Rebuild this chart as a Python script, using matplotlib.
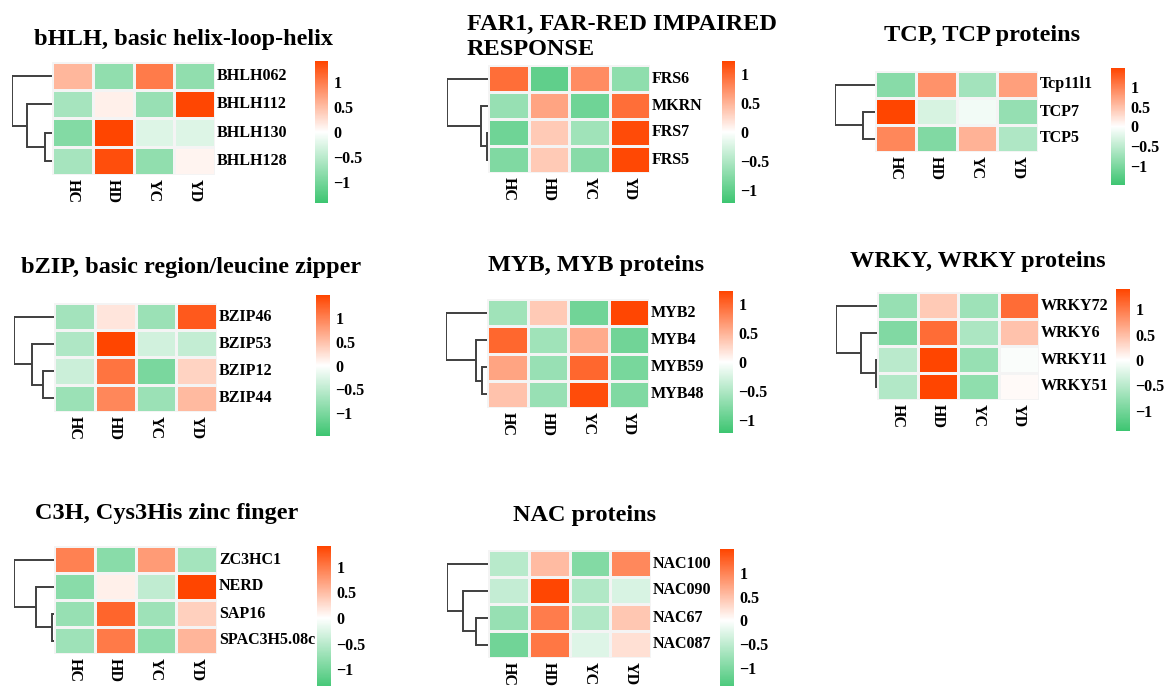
import numpy as np
import matplotlib
matplotlib.use("Agg")
import matplotlib.pyplot as plt
from matplotlib.colors import LinearSegmentedColormap, Normalize

# ── Data: row-scaled expression (z-scores) ───────────────────────────────────
samples = ["HC", "HD", "YC", "YD"]

bhlh_title = "bHLH, basic helix-loop-helix"
bhlh_genes = ["BHLH062", "BHLH112", "BHLH130", "BHLH128"]
bhlh_values = [[0.55, -0.8, 1.0, -0.8],
               [-0.65, 0.12, -0.75, 1.4],
               [-0.9, 1.42, -0.25, -0.25],
               [-0.65, 1.35, -0.8, 0.08]]
bhlh_tree = [(2, 3, 0.18), (1, 4, 0.62), (0, 5, 1.0)]
bhlh_range = 1.42

far1_title = "FAR1, FAR-RED IMPAIRED\nRESPONSE"
far1_genes = ["FRS6", "MKRN", "FRS7", "FRS5"]
far1_values = [[0.95, -1.0, 0.75, -0.7],
               [-0.65, 0.6, -0.9, 0.95],
               [-0.9, 0.35, -0.6, 1.18],
               [-0.8, 0.35, -0.75, 1.2]]
far1_tree = [(2, 3, 0.03), (1, 4, 0.18), (0, 5, 1.0)]
far1_range = 1.22

tcp_title = "TCP, TCP proteins"
tcp_genes = ["Tcp11l1", "TCP7", "TCP5"]
tcp_values = [[-0.9, 0.85, -0.7, 0.75],
              [1.47, -0.3, -0.1, -0.8],
              [0.95, -0.95, 0.6, -0.6]]
tcp_tree = [(1, 2, 0.31), (0, 3, 1.0)]
tcp_range = 1.47

bzip_title = "bZIP, basic region/leucine zipper"
bzip_genes = ["BZIP46", "BZIP53", "BZIP12", "BZIP44"]
bzip_values = [[-0.7, 0.2, -0.75, 1.3],
               [-0.6, 1.47, -0.35, -0.45],
               [-0.4, 1.1, -1.0, 0.35],
               [-0.75, 0.95, -0.75, 0.55]]
bzip_tree = [(2, 3, 0.28), (1, 4, 0.56), (0, 5, 1.0)]
bzip_range = 1.47

myb_title = "MYB, MYB proteins"
myb_genes = ["MYB2", "MYB4", "MYB59", "MYB48"]
myb_values = [[-0.6, 0.35, -0.9, 1.22],
              [1.0, -0.6, 0.55, -0.9],
              [0.6, -0.65, 1.0, -0.85],
              [0.4, -0.65, 1.18, -0.8]]
myb_tree = [(2, 3, 0.13), (1, 4, 0.28), (0, 5, 1.0)]
myb_range = 1.23

wrky_title = "WRKY, WRKY proteins"
wrky_genes = ["WRKY72", "WRKY6", "WRKY11", "WRKY51"]
wrky_values = [[-0.75, 0.4, -0.7, 1.1],
               [-0.9, 1.1, -0.6, 0.45],
               [-0.5, 1.4, -0.75, -0.04],
               [-0.55, 1.4, -0.8, 0.04]]
wrky_tree = [(2, 3, 0.03), (1, 4, 0.40), (0, 5, 1.0)]
wrky_range = 1.4

c3h_title = "C3H, Cys3His zinc finger"
c3h_genes = ["ZC3HC1", "NERD", "SAP16", "SPAC3H5.08c"]
c3h_values = [[0.95, -0.85, 0.75, -0.65],
              [-0.85, 0.12, -0.45, 1.4],
              [-0.75, 1.15, -0.7, 0.35],
              [-0.7, 1.0, -0.8, 0.55]]
c3h_tree = [(2, 3, 0.05), (1, 4, 0.44), (0, 5, 1.0)]
c3h_range = 1.4

nac_title = "NAC proteins"
nac_genes = ["NAC100", "NAC090", "NAC67", "NAC087"]
nac_values = [[-0.55, 0.55, -0.95, 0.95],
              [-0.45, 1.48, -0.6, -0.3],
              [-0.8, 1.05, -0.6, 0.45],
              [-1.1, 1.1, -0.25, 0.25]]
nac_tree = [(2, 3, 0.30), (1, 4, 0.62), (0, 5, 1.0)]
nac_range = 1.5

# ── Layout (pixels): heatmap box, dendrogram left edge, colorbar box, title ───
W, H = 1166, 686
panels = [
    dict(title=bhlh_title, genes=bhlh_genes, values=bhlh_values, tree=bhlh_tree, vr=bhlh_range,
         hm=(52, 62, 215, 175), dl=13, cb=(315, 61, 328, 203), tpos=(184, 39), tha="center"),
    dict(title=far1_title, genes=far1_genes, values=far1_values, tree=far1_tree, vr=far1_range,
         hm=(488, 65, 650, 173), dl=448, cb=(722, 61, 735, 203), tpos=(467, 37), tha="left"),
    dict(title=tcp_title, genes=tcp_genes, values=tcp_values, tree=tcp_tree, vr=tcp_range,
         hm=(875, 71, 1038, 152), dl=836, cb=(1111, 68, 1125, 185), tpos=(982, 35), tha="center"),
    dict(title=bzip_title, genes=bzip_genes, values=bzip_values, tree=bzip_tree, vr=bzip_range,
         hm=(54, 303, 217, 412), dl=15, cb=(316, 295, 330, 436), tpos=(191, 267), tha="center"),
    dict(title=myb_title, genes=myb_genes, values=myb_values, tree=myb_tree, vr=myb_range,
         hm=(487, 299, 649, 408), dl=447, cb=(719, 291, 733, 433), tpos=(596, 266), tha="center"),
    dict(title=wrky_title, genes=wrky_genes, values=wrky_values, tree=wrky_tree, vr=wrky_range,
         hm=(877, 292, 1039, 400), dl=837, cb=(1116, 289, 1130, 431), tpos=(978, 261), tha="center"),
    dict(title=c3h_title, genes=c3h_genes, values=c3h_values, tree=c3h_tree, vr=c3h_range,
         hm=(54, 546, 217, 654), dl=15, cb=(317, 546, 331, 690), tpos=(167, 513), tha="center"),
    dict(title=nac_title, genes=nac_genes, values=nac_values, tree=nac_tree, vr=nac_range,
         hm=(488, 550, 651, 658), dl=448, cb=(720, 549, 734, 692), tpos=(585, 515), tha="center"),
]

cmap = LinearSegmentedColormap.from_list("gwr", ["#3DC571", "#FFFFFF", "#FF4500"])
SERIF = "Liberation Serif"
LABEL_FS = 11.5
TITLE_FS = 17.5


def px_axes(fig, x0, y0, x1, y1):
    return fig.add_axes([x0 / W, 1 - y1 / H, (x1 - x0) / W, (y1 - y0) / H])


def draw_dendrogram(ax, tree, n):
    # leaves sit at row centres, height 0; merges are (a, b, height)
    ypos = {i: i + 0.5 for i in range(n)}
    hgt = {i: 0.0 for i in range(n)}
    for k, (a, b, h) in enumerate(tree):
        node = n + k
        for c in (a, b):
            ax.plot([hgt[c], h], [ypos[c], ypos[c]], color="#3f3f3f", lw=1.4,
                    solid_capstyle="butt")
        ax.plot([h, h], [ypos[a], ypos[b]], color="#3f3f3f", lw=1.4,
                solid_capstyle="projecting")
        ypos[node] = (ypos[a] + ypos[b]) / 2
        hgt[node] = h
    ax.set_xlim(1.0, 0.0)
    ax.set_ylim(n, 0)
    ax.axis("off")


fig = plt.figure(figsize=(W / 100, H / 100), dpi=100)
fig.patch.set_facecolor("white")

for p in panels:
    vals = np.array(p["values"])
    n = vals.shape[0]
    norm = Normalize(vmin=-p["vr"], vmax=p["vr"])
    x0, y0, x1, y1 = p["hm"]

    # heatmap
    ax = px_axes(fig, x0, y0, x1, y1)
    ax.pcolormesh(vals, cmap=cmap, norm=norm, edgecolors="#F4F4F4", linewidth=1.0)
    ax.set_xlim(0, vals.shape[1])
    ax.set_ylim(n, 0)
    ax.axis("off")
    for i, g in enumerate(p["genes"]):
        ax.text(vals.shape[1] + 0.05, i + 0.5, g, ha="left", va="center",
                fontsize=LABEL_FS, fontweight="bold", family=SERIF, clip_on=False)
    for j, s in enumerate(samples):
        ax.text(j + 0.5, n + 0.15, s, ha="center", va="top", rotation=-90,
                fontsize=LABEL_FS, fontweight="bold", family=SERIF, clip_on=False)

    # dendrogram
    dax = px_axes(fig, p["dl"] - 1, y0, x0, y1)
    draw_dendrogram(dax, p["tree"], n)

    # colour bar
    cx0, cy0, cx1, cy1 = p["cb"]
    cax = px_axes(fig, cx0, cy0, cx1, cy1)
    sm = plt.cm.ScalarMappable(norm=norm, cmap=cmap)
    cb = fig.colorbar(sm, cax=cax, ticks=[-1, -0.5, 0, 0.5, 1])
    cb.outline.set_visible(False)
    cb.ax.tick_params(length=0, pad=4)
    cb.ax.set_yticklabels(["\u22121", "\u22120.5", "0", "0.5", "1"])
    for t in cb.ax.get_yticklabels():
        t.set_fontfamily(SERIF)
        t.set_fontweight("bold")
        t.set_fontsize(LABEL_FS)

    # title
    tx, ty = p["tpos"]
    fig.text(tx / W, 1 - ty / H, p["title"], ha=p["tha"], va="center",
             fontsize=TITLE_FS, fontweight="bold", family=SERIF,
             linespacing=1.2, multialignment="left")

fig.savefig("out.png", dpi=100, facecolor="white")
